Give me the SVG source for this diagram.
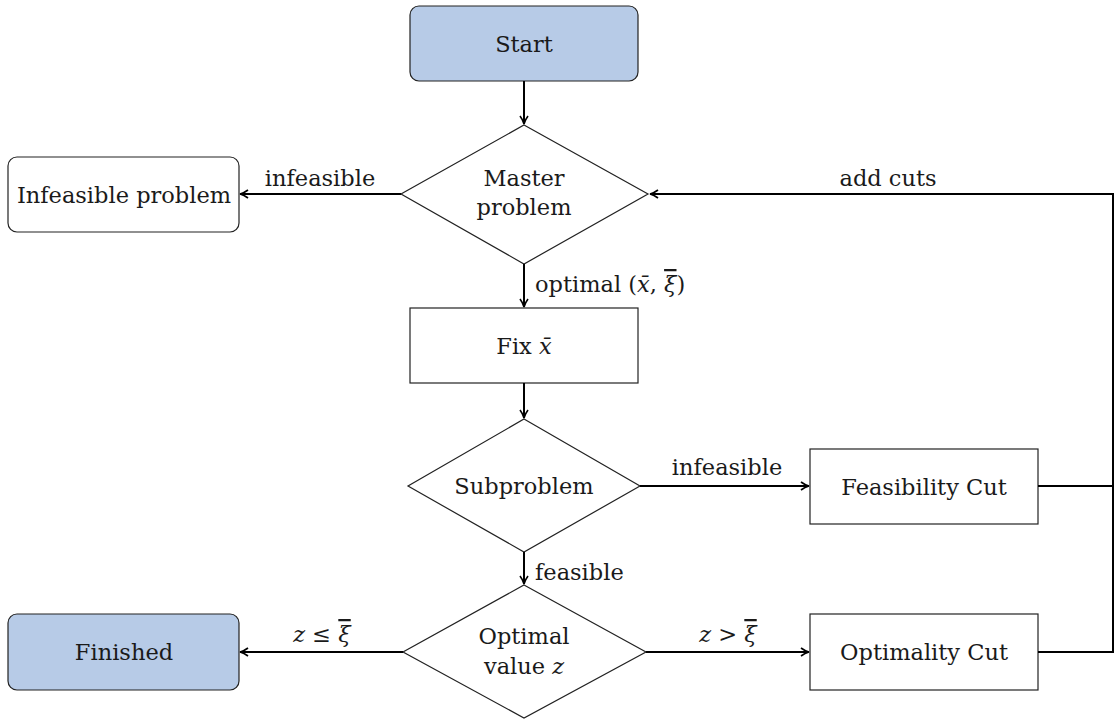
<svg xmlns="http://www.w3.org/2000/svg" width="1115" height="720" viewBox="0 0 1115 720">
<defs>
<marker id="ah" viewBox="0 0 10 10" refX="9" refY="5" markerWidth="10" markerHeight="10" markerUnits="userSpaceOnUse" orient="auto">
<path d="M1,1 Q5,4 9,5 Q5,6 1,9" fill="none" stroke="#000" stroke-width="1.6"/>
</marker>
<style>
text{font-family:"DejaVu Serif","Liberation Serif",serif;font-size:22.5px;fill:#1a1a1a}
.c{text-anchor:middle}
.blue{fill:#b7cbe7;stroke:#222;stroke-width:1.2}
.box{fill:#fff;stroke:#222;stroke-width:1.2}
.con{fill:none;stroke:#000;stroke-width:2}
.m{font-style:italic}
.ov{font-style:italic;text-decoration:overline}
</style>
</defs>
<rect width="1115" height="720" fill="#fff"/>
<g id="start"><rect class="blue" x="410" y="6" width="228" height="75" rx="9"/><text class="c" x="524" y="52">Start</text></g>
<g id="master"><polygon class="box" points="524,125 648,194 524,264 401,194"/><text class="c" x="524" y="186">Master</text><text class="c" x="524" y="215">problem</text></g>
<g id="infeasible"><rect class="box" x="8" y="157" width="231" height="75" rx="9"/><text class="c" x="124" y="203">Infeasible problem</text></g>
<g id="fix"><rect class="box" x="410" y="308" width="228" height="75"/><text class="c" x="524" y="354">Fix <tspan class="m">x̄</tspan></text></g>
<g id="sub"><polygon class="box" points="524,419 640,486 524,552 408,486"/><text class="c" x="524" y="494">Subproblem</text></g>
<g id="feascut"><rect class="box" x="810" y="449" width="228" height="75"/><text class="c" x="924" y="495">Feasibility Cut</text></g>
<g id="optval"><polygon class="box" points="524,585 646,652 524,718 403,652"/><text class="c" x="524" y="644">Optimal</text><text class="c" x="524" y="674">value <tspan class="m">z</tspan></text></g>
<g id="finished"><rect class="blue" x="8" y="614" width="231" height="76" rx="9"/><text class="c" x="124" y="660">Finished</text></g>
<g id="optcut"><rect class="box" x="810" y="614" width="228" height="76"/><text class="c" x="924" y="660">Optimality Cut</text></g>
<g id="connectors">
<line class="con" x1="524" y1="81" x2="524" y2="124" marker-end="url(#ah)"/>
<line class="con" x1="401" y1="194" x2="240" y2="194" marker-end="url(#ah)"/>
<line class="con" x1="524" y1="264" x2="524" y2="307" marker-end="url(#ah)"/>
<line class="con" x1="524" y1="383" x2="524" y2="418" marker-end="url(#ah)"/>
<line class="con" x1="640" y1="486" x2="809" y2="486" marker-end="url(#ah)"/>
<line class="con" x1="524" y1="552" x2="524" y2="584" marker-end="url(#ah)"/>
<line class="con" x1="403" y1="652" x2="240" y2="652" marker-end="url(#ah)"/>
<line class="con" x1="646" y1="652" x2="809" y2="652" marker-end="url(#ah)"/>
<polyline class="con" points="1038,486 1113,486"/>
<polyline class="con" points="1038,652 1113,652 1113,194 650,194" marker-end="url(#ah)"/>
<text x="320" y="186" class="c">infeasible</text>
<text x="888" y="186" class="c">add cuts</text>
<text x="535" y="292">optimal (<tspan class="m">x̄</tspan>, <tspan class="ov">ξ</tspan>)</text>
<text x="727" y="475" class="c">infeasible</text>
<text x="535" y="580">feasible</text>
<text x="322" y="642" class="c"><tspan class="m">z</tspan> ≤ <tspan class="ov">ξ</tspan></text>
<text x="728" y="642" class="c"><tspan class="m">z</tspan> &gt; <tspan class="ov">ξ</tspan></text>
</g>
</svg>
